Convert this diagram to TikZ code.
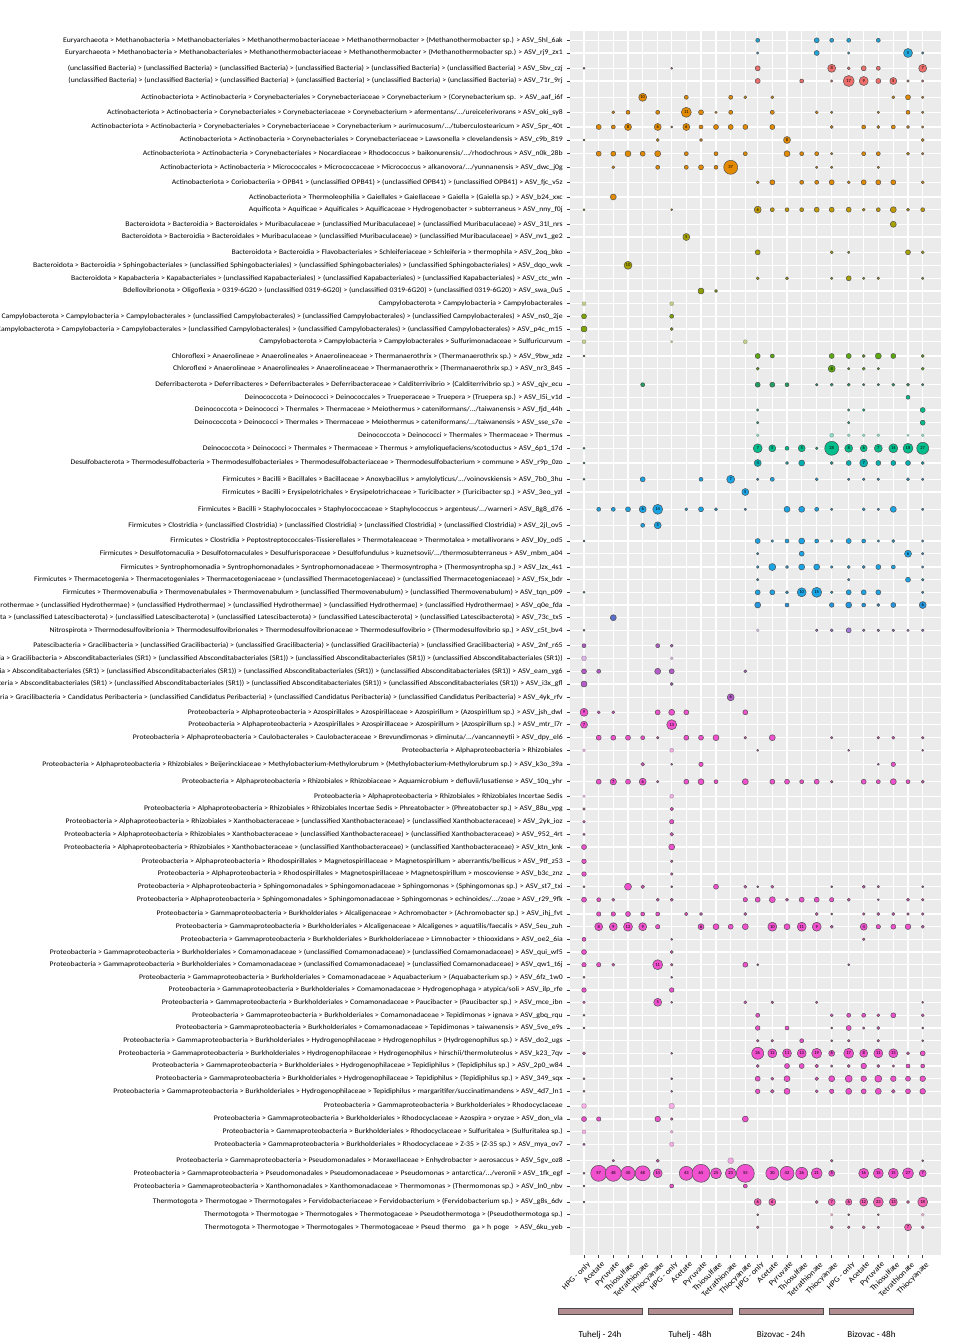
\documentclass[tikz,border=0pt]{standalone}
\usepackage{fontspec}
\setmainfont{Carlito}
\newfontfamily\labfont[FakeStretch=1.09]{Carlito}
\usetikzlibrary{positioning}

\definecolor{panelbg}{HTML}{EBEBEB}
\definecolor{cEury}{HTML}{1FA6DA}
\definecolor{cUncl}{HTML}{EF6F6C}
\definecolor{cActi}{HTML}{E38A00}
\definecolor{cAqui}{HTML}{C39A00}
\definecolor{cBact}{HTML}{A8A200}
\definecolor{cBdel}{HTML}{8E9E00}
\definecolor{cCamp}{HTML}{7FA600}
\definecolor{cChlo}{HTML}{5CAA10}
\definecolor{cDefe}{HTML}{1FA060}
\definecolor{cDein}{HTML}{00BE8C}
\definecolor{cDesu}{HTML}{00AFB0}
\definecolor{cFirm}{HTML}{1AA5E6}
\definecolor{cHydr}{HTML}{2397E0}
\definecolor{cLate}{HTML}{5A6ECC}
\definecolor{cNitr}{HTML}{A77AE0}
\definecolor{cPate}{HTML}{B75CCB}
\definecolor{cProt}{HTML}{F150CF}
\definecolor{cTher}{HTML}{F55FB5}
\definecolor{barfill}{HTML}{B38D91}

% one row of bubbles: row, colour options, list col/radius(px)/number
\newcommand{\bubrow}[3]{%
  \foreach \col/\rad/\val in {#3}{%
    \node[bub, #2, minimum size=\rad*1.5pt] (b#1-\col) at (c\col |- r#1) {\val};
  }%
}
\newcommand{\uB}{(unclassified Bacteria)}
\newcommand{\uSR}{(unclassified Absconditabacteriales (SR1))}

\begin{document}
\begin{tikzpicture}[x=0.75pt, y=-0.75pt,
    lab/.style={anchor=east, inner sep=0pt, font={\labfont\fontsize{5.3}{6}\selectfont}},
    xlab/.style={anchor=north east, rotate=45, inner sep=0pt, font={\labfont\fontsize{5.8}{6}\selectfont}},
    bub/.style={circle, draw=black!70, line width=0.35pt, inner sep=0pt, font={\fontsize{3.4}{3.4}\selectfont}},
    light/.style={fill opacity=0.45, draw opacity=0.4},
    grid/.style={white, line width=0.9pt},
    tick/.style={black!75, line width=0.5pt},
    grpbar/.style={draw=black!70, fill=barfill, line width=0.6pt, minimum width=63pt, minimum height=4.5pt, inner sep=0pt},
    grplab/.style={font=\fontsize{6.8}{7}\selectfont, inner sep=0pt}
  ]
  \useasboundingbox (0,0) rectangle (966,1344);
  \clip (0,0) rectangle (966,1344);

  % panel
  \fill[panelbg] (570,31) rectangle (941,1255);
  \coordinate (top) at (0,31);
  \coordinate (bot) at (0,1255);
  \coordinate (pl) at (570,0);
  \coordinate (pr) at (941,0);
  \coordinate (tk) at (566.5,0);
  \coordinate (lx) at (563,0);
  \coordinate (xl) at (0,1261);

  \foreach \x [count=\i] in {584,598.7,613.3,628,642.7,657.7,671.7,686.3,701,716,730.7,745.3,
      757.7,772.3,787,801.7,816.7,831.7,848.7,863.7,878.3,893.3,908,922.7}
    \coordinate (c\i) at (\x,0);
  \foreach \y [count=\i] in {40.3,53,68.3,81,97.3,112.3,127,140,153.7,167.3,182.3,197,209.7,224.3,
      237,252.3,265.3,278.3,291,303.7,316.3,329,341.7,356,368.7,384.7,397.3,410,422.7,435.3,448.3,
      463,479.3,492,509.3,525.3,541,553.7,567,579.7,592.3,605,617.7,630.3,645.7,658.3,671.3,684,
      697.3,712.3,724.7,737.7,750.3,764.3,781.7,796.3,809,821.7,834.3,847,861.3,874,886.7,899.7,
      914,926.7,939.3,952,964.7,977.3,990,1002.3,1015.3,1028,1040.7,1053.3,1066,1078.7,1091.3,
      1106,1119,1131.7,1144.3,1160.7,1173.3,1186,1202,1214.7,1227.3}
    \coordinate (r\i) at (0,\y);

  % grid and ticks
  \foreach \i in {1,...,24} {
    \draw[grid] (c\i |- top) -- (c\i |- bot);
    \draw[tick] (c\i |- bot) -- ++(0,3);
  }
  \foreach \i in {1,...,89} {
    \draw[grid] (r\i -| pl) -- (r\i -| pr);
    \draw[tick] (r\i -| tk) -- (r\i -| pl);
  }

  % taxon labels
  \node[lab] (l1) at (r1 -| lx) {Euryarchaeota > Methanobacteria > Methanobacteriales > Methanothermobacteriaceae > Methanothermobacter > (Methanothermobacter sp.) > ASV\_5hl\_6ak};
  \node[lab] (l2) at (r2 -| lx) {Euryarchaeota > Methanobacteria > Methanobacteriales > Methanothermobacteriaceae > Methanothermobacter > (Methanothermobacter sp.) > ASV\_rj9\_zx1};
  \node[lab] (l3) at (r3 -| lx) {\uB{} > \uB{} > \uB{} > \uB{} > \uB{} > \uB{} > ASV\_5bv\_czj};
  \node[lab] (l4) at (r4 -| lx) {\uB{} > \uB{} > \uB{} > \uB{} > \uB{} > \uB{} > ASV\_71r\_9rj};
  \node[lab] (l5) at (r5 -| lx) {Actinobacteriota > Actinobacteria > Corynebacteriales > Corynebacteriaceae > Corynebacterium > (Corynebacterium sp.\ \ > ASV\_aaf\_i6f};
  \node[lab] (l6) at (r6 -| lx) {Actinobacteriota > Actinobacteria > Corynebacteriales > Corynebacteriaceae > Corynebacterium > afermentans/.../ureicelerivorans > ASV\_oki\_sy8};
  \node[lab] (l7) at (r7 -| lx) {Actinobacteriota > Actinobacteria > Corynebacteriales > Corynebacteriaceae > Corynebacterium > aurimucosum/.../tuberculostearicum > ASV\_5pr\_40t};
  \node[lab] (l8) at (r8 -| lx) {Actinobacteriota > Actinobacteria > Corynebacteriales > Corynebacteriaceae > Lawsonella > clevelandensis > ASV\_c9b\_819};
  \node[lab] (l9) at (r9 -| lx) {Actinobacteriota > Actinobacteria > Corynebacteriales > Nocardiaceae > Rhodococcus > baikonurensis/.../rhodochrous > ASV\_n0k\_28b};
  \node[lab] (l10) at (r10 -| lx) {Actinobacteriota > Actinobacteria > Micrococcales > Micrococcaceae > Micrococcus > alkanovora/.../yunnanensis > ASV\_dwc\_j0g};
  \node[lab] (l11) at (r11 -| lx) {Actinobacteriota > Coriobacteriia > OPB41 > (unclassified OPB41) > (unclassified OPB41) > (unclassified OPB41) > ASV\_fjc\_v5z};
  \node[lab] (l12) at (r12 -| lx) {Actinobacteriota > Thermoleophilia > Gaiellales > Gaiellaceae > Gaiella > (Gaiella sp.) > ASV\_b24\_xxc};
  \node[lab] (l13) at (r13 -| lx) {Aquificota > Aquificae > Aquificales > Aquificaceae > Hydrogenobacter > subterraneus > ASV\_nny\_f0j};
  \node[lab] (l14) at (r14 -| lx) {Bacteroidota > Bacteroidia > Bacteroidales > Muribaculaceae > (unclassified Muribaculaceae) > (unclassified Muribaculaceae) > ASV\_31l\_nrs};
  \node[lab] (l15) at (r15 -| lx) {Bacteroidota > Bacteroidia > Bacteroidales > Muribaculaceae > (unclassified Muribaculaceae) > (unclassified Muribaculaceae) > ASV\_nv1\_ge2};
  \node[lab] (l16) at (r16 -| lx) {Bacteroidota > Bacteroidia > Flavobacteriales > Schleiferiaceae > Schleiferia > thermophila > ASV\_2oq\_bko};
  \node[lab] (l17) at (r17 -| lx) {Bacteroidota > Bacteroidia > Sphingobacteriales > (unclassified Sphingobacteriales) > (unclassified Sphingobacteriales) > (unclassified Sphingobacteriales) > ASV\_dqo\_wvk};
  \node[lab] (l18) at (r18 -| lx) {Bacteroidota > Kapabacteria > Kapabacteriales > (unclassified Kapabacteriales) > (unclassified Kapabacteriales) > (unclassified Kapabacteriales) > ASV\_ctc\_wln};
  \node[lab] (l19) at (r19 -| lx) {Bdellovibrionota > Oligoflexia > 0319-6G20 > (unclassified 0319-6G20) > (unclassified 0319-6G20) > (unclassified 0319-6G20) > ASV\_swa\_0u5};
  \node[lab] (l20) at (r20 -| lx) {Campylobacterota > Campylobacteria > Campylobacterales};
  \node[lab] (l21) at (r21 -| lx) {Campylobacterota > Campylobacteria > Campylobacterales > (unclassified Campylobacterales) > (unclassified Campylobacterales) > (unclassified Campylobacterales) > ASV\_ns0\_2je};
  \node[lab] (l22) at (r22 -| lx) {Campylobacterota > Campylobacteria > Campylobacterales > (unclassified Campylobacterales) > (unclassified Campylobacterales) > (unclassified Campylobacterales) > ASV\_p4c\_m15};
  \node[lab] (l23) at (r23 -| lx) {Campylobacterota > Campylobacteria > Campylobacterales > Sulfurimonadaceae > Sulfuricurvum};
  \node[lab] (l24) at (r24 -| lx) {Chloroflexi > Anaerolineae > Anaerolineales > Anaerolineaceae > Thermanaerothrix > (Thermanaerothrix sp.) > ASV\_9bw\_xdz};
  \node[lab] (l25) at (r25 -| lx) {Chloroflexi > Anaerolineae > Anaerolineales > Anaerolineaceae > Thermanaerothrix > (Thermanaerothrix sp.) > ASV\_nr3\_845};
  \node[lab] (l26) at (r26 -| lx) {Deferribacterota > Deferribacteres > Deferribacterales > Deferribacteraceae > Calditerrivibrio > (Calditerrivibrio sp.) > ASV\_qjv\_ecu};
  \node[lab] (l27) at (r27 -| lx) {Deinococcota > Deinococci > Deinococcales > Trueperaceae > Truepera > (Truepera sp.) > ASV\_l5i\_v1d};
  \node[lab] (l28) at (r28 -| lx) {Deinococcota > Deinococci > Thermales > Thermaceae > Meiothermus > cateniformans/.../taiwanensis > ASV\_fjd\_44h};
  \node[lab] (l29) at (r29 -| lx) {Deinococcota > Deinococci > Thermales > Thermaceae > Meiothermus > cateniformans/.../taiwanensis > ASV\_sse\_s7e};
  \node[lab] (l30) at (r30 -| lx) {Deinococcota > Deinococci > Thermales > Thermaceae > Thermus};
  \node[lab] (l31) at (r31 -| lx) {Deinococcota > Deinococci > Thermales > Thermaceae > Thermus > amyloliquefaciens/scotoductus > ASV\_6p1\_17d};
  \node[lab] (l32) at (r32 -| lx) {Desulfobacterota > Thermodesulfobacteria > Thermodesulfobacteriales > Thermodesulfobacteriaceae > Thermodesulfobacterium > commune > ASV\_r9p\_0zo};
  \node[lab] (l33) at (r33 -| lx) {Firmicutes > Bacilli > Bacillales > Bacillaceae > Anoxybacillus > amylolyticus/.../voinovskiensis > ASV\_7b0\_3hu};
  \node[lab] (l34) at (r34 -| lx) {Firmicutes > Bacilli > Erysipelotrichales > Erysipelotrichaceae > Turicibacter > (Turicibacter sp.) > ASV\_3eo\_yzl};
  \node[lab] (l35) at (r35 -| lx) {Firmicutes > Bacilli > Staphylococcales > Staphylococcaceae > Staphylococcus > argenteus/.../warneri > ASV\_8g8\_d76};
  \node[lab] (l36) at (r36 -| lx) {Firmicutes > Clostridia > (unclassified Clostridia) > (unclassified Clostridia) > (unclassified Clostridia) > (unclassified Clostridia) > ASV\_2jl\_ov5};
  \node[lab] (l37) at (r37 -| lx) {Firmicutes > Clostridia > Peptostreptococcales-Tissierellales > Thermotaleaceae > Thermotalea > metallivorans > ASV\_l0y\_od5};
  \node[lab] (l38) at (r38 -| lx) {Firmicutes > Desulfotomaculia > Desulfotomaculales > Desulfurisporaceae > Desulfofundulus > kuznetsovii/.../thermosubterraneus > ASV\_mbm\_a04};
  \node[lab] (l39) at (r39 -| lx) {Firmicutes > Syntrophomonadia > Syntrophomonadales > Syntrophomonadaceae > Thermosyntropha > (Thermosyntropha sp.) > ASV\_lzx\_4s1};
  \node[lab] (l40) at (r40 -| lx) {Firmicutes > Thermacetogenia > Thermacetogeniales > Thermacetogeniaceae > (unclassified Thermacetogeniaceae) > (unclassified Thermacetogeniaceae) > ASV\_f5x\_bdr};
  \node[lab] (l41) at (r41 -| lx) {Firmicutes > Thermovenabulia > Thermovenabulales > Thermovenabulum > (unclassified Thermovenabulum) > (unclassified Thermovenabulum) > ASV\_tqn\_p09};
  \node[lab] (l42) at (r42 -| lx) {Hydrothermae > (unclassified Hydrothermae) > (unclassified Hydrothermae) > (unclassified Hydrothermae) > (unclassified Hydrothermae) > (unclassified Hydrothermae) > ASV\_q0e\_fda};
  \node[lab] (l43) at (r43 -| lx) {Latescibacterota > (unclassified Latescibacterota) > (unclassified Latescibacterota) > (unclassified Latescibacterota) > (unclassified Latescibacterota) > (unclassified Latescibacterota) > ASV\_73c\_tx5};
  \node[lab] (l44) at (r44 -| lx) {Nitrospirota > Thermodesulfovibrionia > Thermodesulfovibrionales > Thermodesulfovibrionaceae > Thermodesulfovibrio > (Thermodesulfovibrio sp.) > ASV\_c5t\_bv4};
  \node[lab] (l45) at (r45 -| lx) {Patescibacteria > Gracilibacteria > (unclassified Gracilibacteria) > (unclassified Gracilibacteria) > (unclassified Gracilibacteria) > (unclassified Gracilibacteria) > ASV\_2nf\_r65};
  \node[lab] (l46) at (r46 -| lx) {Patescibacteria > Gracilibacteria > Absconditabacteriales (SR1) > \uSR{} > \uSR{} > \uSR};
  \node[lab] (l47) at (r47 -| lx) {Patescibacteria > Gracilibacteria > Absconditabacteriales (SR1) > \uSR{} > \uSR{} > \uSR{} > ASV\_eam\_yg6};
  \node[lab] (l48) at (r48 -| lx) {Patescibacteria > Gracilibacteria > Absconditabacteriales (SR1) > \uSR{} > \uSR{} > \uSR{} > ASV\_i3x\_gfl};
  \node[lab] (l49) at (r49 -| lx) {Patescibacteria > Gracilibacteria > Candidatus Peribacteria > (unclassified Candidatus Peribacteria) > (unclassified Candidatus Peribacteria) > (unclassified Candidatus Peribacteria) > ASV\_4yk\_rfv};
  \node[lab] (l50) at (r50 -| lx) {Proteobacteria > Alphaproteobacteria > Azospirillales > Azospirillaceae > Azospirillum > (Azospirillum sp.) > ASV\_jsh\_dwl};
  \node[lab] (l51) at (r51 -| lx) {Proteobacteria > Alphaproteobacteria > Azospirillales > Azospirillaceae > Azospirillum > (Azospirillum sp.) > ASV\_mtr\_l7r};
  \node[lab] (l52) at (r52 -| lx) {Proteobacteria > Alphaproteobacteria > Caulobacterales > Caulobacteraceae > Brevundimonas > diminuta/.../vancanneytii > ASV\_dpy\_el6};
  \node[lab] (l53) at (r53 -| lx) {Proteobacteria > Alphaproteobacteria > Rhizobiales\hspace{4pt}};
  \node[lab] (l54) at (r54 -| lx) {Proteobacteria > Alphaproteobacteria > Rhizobiales > Beijerinckiaceae > Methylobacterium-Methylorubrum > (Methylobacterium-Methylorubrum sp.) > ASV\_k3o\_39a};
  \node[lab] (l55) at (r55 -| lx) {Proteobacteria > Alphaproteobacteria > Rhizobiales > Rhizobiaceae > Aquamicrobium > defluvii/lusatiense > ASV\_10q\_yhr};
  \node[lab] (l56) at (r56 -| lx) {Proteobacteria > Alphaproteobacteria > Rhizobiales > Rhizobiales Incertae Sedis};
  \node[lab] (l57) at (r57 -| lx) {Proteobacteria > Alphaproteobacteria > Rhizobiales > Rhizobiales Incertae Sedis > Phreatobacter > (Phreatobacter sp.) > ASV\_88u\_vpg};
  \node[lab] (l58) at (r58 -| lx) {Proteobacteria > Alphaproteobacteria > Rhizobiales > Xanthobacteraceae > (unclassified Xanthobacteraceae) > (unclassified Xanthobacteraceae) > ASV\_2yk\_ioz};
  \node[lab] (l59) at (r59 -| lx) {Proteobacteria > Alphaproteobacteria > Rhizobiales > Xanthobacteraceae > (unclassified Xanthobacteraceae) > (unclassified Xanthobacteraceae) > ASV\_952\_4rt};
  \node[lab] (l60) at (r60 -| lx) {Proteobacteria > Alphaproteobacteria > Rhizobiales > Xanthobacteraceae > (unclassified Xanthobacteraceae) > (unclassified Xanthobacteraceae) > ASV\_ktn\_knk};
  \node[lab] (l61) at (r61 -| lx) {Proteobacteria > Alphaproteobacteria > Rhodospirillales > Magnetospirillaceae > Magnetospirillum > aberrantis/bellicus > ASV\_9tf\_z53};
  \node[lab] (l62) at (r62 -| lx) {Proteobacteria > Alphaproteobacteria > Rhodospirillales > Magnetospirillaceae > Magnetospirillum > moscoviense > ASV\_b3c\_znz};
  \node[lab] (l63) at (r63 -| lx) {Proteobacteria > Alphaproteobacteria > Sphingomonadales > Sphingomonadaceae > Sphingomonas > (Sphingomonas sp.) > ASV\_st7\_txi};
  \node[lab] (l64) at (r64 -| lx) {Proteobacteria > Alphaproteobacteria > Sphingomonadales > Sphingomonadaceae > Sphingomonas > echinoides/.../zoae > ASV\_r29\_9fk};
  \node[lab] (l65) at (r65 -| lx) {Proteobacteria > Gammaproteobacteria > Burkholderiales > Alcaligenaceae > Achromobacter > (Achromobacter sp.) > ASV\_ihj\_fvt};
  \node[lab] (l66) at (r66 -| lx) {Proteobacteria > Gammaproteobacteria > Burkholderiales > Alcaligenaceae > Alcaligenes > aquatilis/faecalis > ASV\_5eu\_zuh};
  \node[lab] (l67) at (r67 -| lx) {Proteobacteria > Gammaproteobacteria > Burkholderiales > Burkholderiaceae > Limnobacter > thiooxidans > ASV\_oe2\_6ia};
  \node[lab] (l68) at (r68 -| lx) {Proteobacteria > Gammaproteobacteria > Burkholderiales > Comamonadaceae > (unclassified Comamonadaceae) > (unclassified Comamonadaceae) > ASV\_qui\_wf5};
  \node[lab] (l69) at (r69 -| lx) {Proteobacteria > Gammaproteobacteria > Burkholderiales > Comamonadaceae > (unclassified Comamonadaceae) > (unclassified Comamonadaceae) > ASV\_qw1\_t6j};
  \node[lab] (l70) at (r70 -| lx) {Proteobacteria > Gammaproteobacteria > Burkholderiales > Comamonadaceae > Aquabacterium > (Aquabacterium sp.) > ASV\_6fz\_1w0};
  \node[lab] (l71) at (r71 -| lx) {Proteobacteria > Gammaproteobacteria > Burkholderiales > Comamonadaceae > Hydrogenophaga > atypica/soli > ASV\_ilp\_rfe};
  \node[lab] (l72) at (r72 -| lx) {Proteobacteria > Gammaproteobacteria > Burkholderiales > Comamonadaceae > Paucibacter > (Paucibacter sp.) > ASV\_mce\_ibn};
  \node[lab] (l73) at (r73 -| lx) {Proteobacteria > Gammaproteobacteria > Burkholderiales > Comamonadaceae > Tepidimonas > ignava > ASV\_gbq\_rqu};
  \node[lab] (l74) at (r74 -| lx) {Proteobacteria > Gammaproteobacteria > Burkholderiales > Comamonadaceae > Tepidimonas > taiwanensis > ASV\_5ve\_e9s};
  \node[lab] (l75) at (r75 -| lx) {Proteobacteria > Gammaproteobacteria > Burkholderiales > Hydrogenophilaceae > Hydrogenophilus > (Hydrogenophilus sp.) > ASV\_do2\_ugs};
  \node[lab] (l76) at (r76 -| lx) {Proteobacteria > Gammaproteobacteria > Burkholderiales > Hydrogenophilaceae > Hydrogenophilus > hirschii/thermoluteolus > ASV\_k23\_7qv};
  \node[lab] (l77) at (r77 -| lx) {Proteobacteria > Gammaproteobacteria > Burkholderiales > Hydrogenophilaceae > Tepidiphilus > (Tepidiphilus sp.) > ASV\_2p0\_w84};
  \node[lab] (l78) at (r78 -| lx) {Proteobacteria > Gammaproteobacteria > Burkholderiales > Hydrogenophilaceae > Tepidiphilus > (Tepidiphilus sp.) > ASV\_349\_sqx};
  \node[lab] (l79) at (r79 -| lx) {Proteobacteria > Gammaproteobacteria > Burkholderiales > Hydrogenophilaceae > Tepidiphilus > margaritifer/succinatimandens > ASV\_4d7\_ln1};
  \node[lab] (l80) at (r80 -| lx) {Proteobacteria > Gammaproteobacteria > Burkholderiales > Rhodocyclaceae};
  \node[lab] (l81) at (r81 -| lx) {Proteobacteria > Gammaproteobacteria > Burkholderiales > Rhodocyclaceae > Azospira > oryzae > ASV\_don\_vla};
  \node[lab] (l82) at (r82 -| lx) {Proteobacteria > Gammaproteobacteria > Burkholderiales > Rhodocyclaceae > Sulfuritalea > (Sulfuritalea sp.)};
  \node[lab] (l83) at (r83 -| lx) {Proteobacteria > Gammaproteobacteria > Burkholderiales > Rhodocyclaceae > Z-35 > (Z-35 sp.) > ASV\_mya\_ov7};
  \node[lab] (l84) at (r84 -| lx) {Proteobacteria > Gammaproteobacteria > Pseudomonadales > Moraxellaceae > Enhydrobacter > aerosaccus > ASV\_5gv\_oz8};
  \node[lab] (l85) at (r85 -| lx) {Proteobacteria > Gammaproteobacteria > Pseudomonadales > Pseudomonadaceae > Pseudomonas > antarctica/.../veronii > ASV\_1fk\_egf};
  \node[lab] (l86) at (r86 -| lx) {Proteobacteria > Gammaproteobacteria > Xanthomonadales > Xanthomonadaceae > Thermomonas > (Thermomonas sp.) > ASV\_ln0\_nbv};
  \node[lab] (l87) at (r87 -| lx) {Thermotogota > Thermotogae > Thermotogales > Fervidobacteriaceae > Fervidobacterium > (Fervidobacterium sp.) > ASV\_g8s\_6dv};
  \node[lab] (l88) at (r88 -| lx) {Thermotogota > Thermotogae > Thermotogales > Thermotogaceae > Pseudothermotoga > (Pseudothermotoga sp.)};
  \node[lab] (l89) at (r89 -| lx) {Thermotogota > Thermotogae > Thermotogales > Thermotogaceae > Pseud\hspace{2pt}thermo\hspace{5pt}ga > h\hspace{2pt}poge\hspace{4pt}> ASV\_6ku\_yeb};

  % bubbles
  \bubrow{1}{fill=cEury}{13/2/{},17/2.5/{},18/2/{},19/2/{},21/2/{}}
  \bubrow{2}{fill=cEury}{13/1.2/{},17/2.5/{},19/1.2/{},23/4.5/5,24/1.2/{}}
  \bubrow{3}{fill=cUncl}{1/1/{},7/1/{},13/2.5/{},18/4/8,19/1.5/{},20/2.5/{},21/2/{},24/4/7}
  \bubrow{4}{fill=cUncl}{13/2.5/{},16/2/{},18/1.2/{},19/5.5/17,20/4.5/9,21/2.5/{},22/3.5/5,23/1.2/{},24/1.2/{}}
  \bubrow{5}{fill=cActi}{5/4/10,8/2/{},11/2/{},12/1.5/{},14/1.5/{},22/1.5/{},23/2.5/{},24/1.2/{}}
  \bubrow{6}{fill=cActi}{3/1.5/{},4/2/{},6/2/{},8/5/11,9/2.5/{},10/1.2/{},11/2/{},14/2/{},17/1.5/{},18/1.2/{},21/1.2/{},23/2/{},24/1.2/{}}
  \bubrow{7}{fill=cActi}{2/2.5/{},3/2/{},4/3.5/8,6/3.5/6,7/1/{},8/3.5/6,9/2/{},10/2.5/{},11/2.5/{},12/2.5/{},14/2.5/{},18/1.5/{},20/2/{},21/1.5/{},22/2/{},23/1.5/{},24/1.2/{}}
  \bubrow{8}{fill=cActi}{1/1/{},6/1.5/{},9/1.5/{},15/3.5/8,24/1.5/{}}
  \bubrow{9}{fill=cActi}{2/2.5/{},3/2.5/{},4/3/{},5/2.5/{},6/3/{},8/2/{},10/2/{},12/2/{},15/3/{},16/2/{},17/2/{},18/1.2/{},20/2/{},21/2/{},23/1.5/{},24/1.2/{}}
  \bubrow{10}{fill=cActi}{3/1.5/{},6/2/{},8/2/{},9/2.5/{},10/2/{},11/7/37,17/1.2/{},18/1.2/{},21/1.2/{}}
  \bubrow{11}{fill=cActi}{13/1.5/{},14/2.5/{},16/2/{},17/2/{},18/2.5/{},19/1.5/{},20/2.5/{},21/2.5/{},22/2.5/{},24/1.5/{}}
  \bubrow{12}{fill=cActi}{3/3/{}}
  \bubrow{13}{fill=cAqui}{1/1/{},7/1/{},13/3.5/6,14/2/{},15/2/{},16/2/{},17/2.5/{},18/2.5/{},19/2.5/{},20/1.5/{},21/2/{},22/3/{},23/1.5/{},24/2/{}}
  \bubrow{14}{fill=cBact}{22/3/{}}
  \bubrow{15}{fill=cBact}{8/3.5/5}
  \bubrow{16}{fill=cBact}{13/2.5/{},18/1.5/{},19/1.2/{},23/2.5/{},24/1.5/{}}
  \bubrow{17}{fill=cBact}{4/4/10}
  \bubrow{18}{fill=cBact}{13/1.5/{},15/1.5/{},18/1.2/{},19/2.5/{},20/1.2/{},21/1.3/{},24/1.2/{}}
  \bubrow{19}{fill=cBdel}{9/3/{},10/1.5/{}}
  \bubrow{20}{fill=cCamp, light}{1/2/{},7/2/{}}
  \bubrow{21}{fill=cCamp}{1/2.5/{},7/2/{}}
  \bubrow{22}{fill=cCamp}{1/3/{},7/1.5/{}}
  \bubrow{23}{fill=cCamp, light}{1/2/{},7/1.2/{},12/2/{}}
  \bubrow{24}{fill=cChlo}{1/1/{},13/2.5/{},14/2/{},18/2.5/{},19/2.5/{},20/1.5/{},21/3/{},22/2.5/{},24/1.5/{}}
  \bubrow{25}{fill=cChlo}{13/1.5/{},18/3.5/8,19/1.2/{},20/1.5/{},21/1.2/{},24/1.5/{}}
  \bubrow{26}{fill=cDefe}{5/2/{},13/2.5/{},14/2.5/{},15/2/{},17/1.3/{},18/1.5/{},19/1.5/{},20/1.2/{},21/1.2/{},22/1.5/{},23/1.5/{},24/1.2/{}}
  \bubrow{27}{fill=cDein}{23/2/{}}
  \bubrow{28}{fill=cDein}{13/1.2/{},19/1.2/{},20/1.3/{},24/2.5/{}}
  \bubrow{29}{fill=cDein}{13/1.2/{},19/1.2/{},24/2.5/{}}
  \bubrow{30}{fill=cDein, light}{13/1.5/{},18/2/{},19/1.5/{},20/1.5/{},21/1.5/{},23/1.2/{},24/1.5/{}}
  \bubrow{31}{fill=cDein}{1/1/{},13/4.5/7,14/3.5/5,15/2/{},16/3.5/5,17/1.3/{},18/7/28,19/4/8,20/3.5/6,21/4/7,22/4.5/14,23/5/18,24/6/27}
  \bubrow{32}{fill=cDesu}{1/1/{},13/3.5/4,15/1.5/{},16/3/{},18/1.5/{},19/2.5/{},20/4/7,21/2.5/{},22/2.5/{},23/2.5/{},24/1.5/{}}
  \bubrow{33}{fill=cFirm}{1/1/{},5/2.5/{},9/2/{},11/4/7,13/1.2/{},14/2/{},17/1.5/{},19/1.2/{},20/1.3/{},21/1.3/{},23/1.5/{},24/1.2/{}}
  \bubrow{34}{fill=cFirm}{12/3.5/5}
  \bubrow{35}{fill=cFirm}{2/2/{},3/2/{},4/2.5/{},5/3.5/6,6/5/14,8/1.5/{},9/2.5/{},10/1.5/{},12/1.2/{},15/3/{},16/3/{},17/2/{},18/1.2/{},20/1.5/{},21/1.2/{},22/3/{},24/1.2/{}}
  \bubrow{36}{fill=cFirm}{5/2/{},6/3.5/5}
  \bubrow{37}{fill=cFirm}{1/1/{},13/2.5/{},14/1.3/{},15/2/{},16/3/{},17/2/{},18/1.3/{},19/2.5/{},20/2/{},21/1.2/{},22/1.5/{},24/1.2/{}}
  \bubrow{38}{fill=cFirm}{13/1.2/{},16/2.5/{},23/3.5/6,24/1.2/{}}
  \bubrow{39}{fill=cFirm}{13/1.3/{},14/3.5/{},15/1.5/{},16/3/{},17/3/{},18/1.3/{},19/1.5/{},20/1.5/{},21/2.5/{},22/2/{},24/1.2/{}}
  \bubrow{40}{fill=cFirm}{13/1.2/{},19/1.2/{},23/2.5/{},24/1.3/{}}
  \bubrow{41}{fill=cFirm}{1/1/{},13/2.5/{},14/2.5/{},15/1.5/{},16/4.5/10,17/5/15,18/1.3/{},19/2.5/{},20/2.5/{},21/2.5/{},24/1.2/{}}
  \bubrow{42}{fill=cHydr}{13/3/{},15/2/{},18/2.3/{},19/3/{},20/2/{},21/1.5/{},22/2.5/{},24/3.5/6}
  \bubrow{43}{fill=cLate}{3/3/{}}
  \bubrow{44}{fill=cNitr}{1/1/{},17/1.3/{},18/1.5/{},19/2.5/{},20/1.3/{},21/1.3/{},22/1.3/{},23/1.2/{},24/1.3/{}}
  \bubrow{44}{fill=cNitr, light}{13/1.5/{}}
  \bubrow{45}{fill=cPate}{1/2/{},6/2/{},7/1.5/{}}
  \bubrow{46}{fill=cPate, light}{1/2.5/{},7/1.5/{}}
  \bubrow{47}{fill=cPate}{1/2.5/{},2/2/{},6/3/{},7/2.5/{},12/1.5/{}}
  \bubrow{48}{fill=cPate}{1/3/{},7/1.5/{}}
  \bubrow{49}{fill=cPate}{11/3.5/6}
  \bubrow{50}{fill=cProt}{1/4/9,2/1.5/{},3/1.5/{},6/2.5/{},7/3/{},8/2.5/{},12/2.5/{}}
  \bubrow{51}{fill=cProt}{1/3.5/7,7/5/13}
  \bubrow{52}{fill=cProt}{2/2.5/{},3/2.5/{},4/2.5/{},5/2/{},6/1.3/{},8/2.5/{},9/2.5/{},10/3/{},12/1.3/{},14/3/{},18/1.2/{},21/1.3/{},22/1.5/{},24/1.3/{}}
  \bubrow{53}{fill=cProt, light}{1/1.5/{},7/2/{}}
  \bubrow{53}{fill=cProt}{13/1/{},19/1/{},24/1/{}}
  \bubrow{54}{fill=cProt}{5/1.8/{},7/1/{},9/2.2/{},21/1/{},22/2.2/{}}
  \bubrow{55}{fill=cProt}{2/2.5/{},3/3.2/7,4/2.5/{},5/3.5/6,6/1.2/{},8/2.5/{},9/3/{},10/2/{},12/3/{},14/2.5/{},15/2.5/{},16/2/{},17/2.5/{},18/1.3/{},20/2.5/{},21/2/{},22/3/{},23/2/{},24/1.5/{}}
  \bubrow{56}{fill=cProt, light}{1/1.3/{},7/2/{}}
  \bubrow{57}{fill=cProt}{1/1.2/{},7/1.8/{}}
  \bubrow{58}{fill=cProt}{1/1.3/{},7/2.2/{}}
  \bubrow{59}{fill=cProt}{1/1.2/{},7/1.8/{}}
  \bubrow{60}{fill=cProt}{1/2.5/{},7/3/{}}
  \bubrow{61}{fill=cProt}{1/2.3/{},7/1.3/{}}
  \bubrow{62}{fill=cProt}{1/2.3/{},7/1.3/{}}
  \bubrow{63}{fill=cProt}{1/1/{},4/3.5/{},5/1.8/{},7/1/{},10/2.5/{},12/1.5/{},13/1/{},14/1.5/{},18/1/{},20/1.5/{},21/1.2/{},24/1/{}}
  \bubrow{64}{fill=cProt}{1/2.5/{},2/2/{},3/1.5/{},6/1.5/{},7/1.5/{},12/2.2/{},13/2.5/{},14/3/{},15/1.5/{},16/2.5/{},17/2.5/{},18/2.2/{},19/1.5/{},21/1/{},23/1.5/{},24/1.3/{}}
  \bubrow{65}{fill=cProt}{2/2.2/{},3/2.2/{},4/2.5/{},5/2/{},6/2/{},8/1.8/{},9/1.5/{},12/1.5/{},17/1.5/{},18/1/{},20/1.3/{},21/1.5/{},22/1.5/{},23/1.3/{},24/1.3/{}}
  \bubrow{66}{fill=cProt}{2/4/8,3/4/9,4/4.5/12,5/4/9,6/2.2/{},9/3/6,10/3/{},11/2.5/{},12/3/{},14/4.5/10,15/3/{},16/4.5/11,17/4.5/9,18/1.5/{},20/3.5/4,21/2.2/{},22/2.5/{},23/2.8/{},24/1.5/{}}
  \bubrow{67}{fill=cProt}{1/2/{},7/1/{},20/1.3/{}}
  \bubrow{68}{fill=cProt}{1/2.5/{},7/1.5/{}}
  \bubrow{69}{fill=cProt}{1/2.2/{},2/2.2/{},3/1.5/{},6/5/11,7/1.3/{},12/2.5/{},13/1/{},19/1/{}}
  \bubrow{70}{fill=cProt}{1/1/{},7/1/{}}
  \bubrow{71}{fill=cProt}{1/2.3/{},7/2.3/{}}
  \bubrow{72}{fill=cProt}{1/1.3/{},6/4/5,7/1/{},12/1.5/{},14/1.3/{},17/1.2/{},24/1/{}}
  \bubrow{73}{fill=cProt}{1/1/{},13/2/{},18/1.5/{},19/2/{},20/2/{},21/1.5/{},22/2.5/{},24/1.5/{}}
  \bubrow{74}{fill=cProt}{1/1/{},13/2.3/{},15/2/{},18/1/{},19/2.5/{},20/1.2/{},21/1.5/{},24/1/{}}
  \bubrow{75}{fill=cProt}{13/1.3/{},14/1.3/{},16/2/{},18/1/{},19/1.3/{},21/1.3/{},24/1/{}}
  \bubrow{76}{fill=cProt}{1/1.5/{},7/1/{},13/6/26,14/4.5/12,15/4.5/11,16/4.5/13,17/5/19,18/3/6,19/5/17,20/4/8,21/4.5/11,22/4.5/13,23/1.5/{},24/2.5/{}}
  \bubrow{77}{fill=cProt}{13/1.5/{},15/2.5/{},16/2.5/{},17/1.8/{},18/1.2/{},19/1.5/{},20/2.8/{},21/1.5/{},22/1.2/{},23/2/{},24/2/{}}
  \bubrow{78}{fill=cProt}{1/1/{},7/1/{},13/2.5/{},14/1.5/{},15/3/{},17/1.8/{},18/3/{},19/3.5/{},20/2.8/{},21/3.5/{},22/2.8/{},23/2.5/{},24/2.8/{}}
  \bubrow{79}{fill=cProt}{1/1/{},7/1/{},13/2.3/{},14/1.8/{},15/3/{},17/1.5/{},18/2.2/{},19/3/{},20/2.5/{},21/3/{},22/1.8/{},23/2.5/{},24/2.8/{}}
  \bubrow{80}{fill=cProt, light}{1/2.5/{},7/2.8/{}}
  \bubrow{81}{fill=cProt}{1/2.5/{},2/2.2/{},6/2.8/{},7/1.3/{},12/3/{}}
  \bubrow{82}{fill=cProt, light}{1/2/{},7/1.5/{}}
  \bubrow{83}{fill=cProt}{1/1.2/{}}
  \bubrow{83}{fill=cProt, light}{7/2.2/{}}
  \bubrow{84}{fill=cProt}{3/1.2/{},6/1.5/{},18/1.3/{},24/1/{}}
  \bubrow{84}{fill=cProt, light}{11/3/{}}
  \bubrow{85}{fill=cProt}{1/1/{},2/8/57,3/8/48,4/7/40,5/7.5/48,6/4.5/14,8/7/43,9/9/65,10/5.5/25,11/5.5/23,12/9/55,14/6.5/30,15/7/42,16/6/26,17/5.5/21,18/3/5,20/5/16,21/5/15,22/5/15,23/5.5/27,24/3.5/7}
  \bubrow{86}{fill=cProt}{1/1/{},7/2/{},12/2/{}}
  \bubrow{87}{fill=cTher}{1/1/{},13/3.5/6,14/3.5/6,17/1.5/{},18/3.5/7,19/3.2/6,20/4/12,21/5/23,22/4/13,23/1.5/{},24/5/18}
  \bubrow{88}{fill=cTher}{13/1/{},19/1/{},21/1/{}}
  \bubrow{88}{fill=cTher, light}{18/1.3/{},24/1.5/{}}
  \bubrow{89}{fill=cTher}{13/1.3/{},18/1.5/{},19/1.3/{},20/1.5/{},21/1.2/{},23/3.5/7,24/1.5/{}}

  % x axis labels
  \foreach \t [count=\i] in {HPG - only,Acetate,Pyruvate,Thiosulfate,Tetrathionate,Thiocyanate,
      HPG - only,Acetate,Pyruvate,Thiosulfate,Tetrathionate,Thiocyanate,
      HPG - only,Acetate,Pyruvate,Thiosulfate,Tetrathionate,Thiocyanate,
      HPG - only,Acetate,Pyruvate,Thiosulfate,Tetrathionate,Thiocyanate}
    \node[xlab] (x\i) at ([xshift=2pt]c\i |- xl) {\t};

  % site / time groups
  \node[grpbar] (g1) at (600,1311) {};
  \node[grpbar] (g2) at (690,1311) {};
  \node[grpbar] (g3) at (781,1311) {};
  \node[grpbar] (g4) at (871.5,1311) {};
  \node[grplab, below=12.5pt of g1] (t1) {Tuhelj - 24h};
  \node[grplab, below=12.5pt of g2] (t2) {Tuhelj - 48h};
  \node[grplab, below=12.5pt of g3] (t3) {Bizovac - 24h};
  \node[grplab, below=12.5pt of g4] (t4) {Bizovac - 48h};
\end{tikzpicture}
\end{document}
